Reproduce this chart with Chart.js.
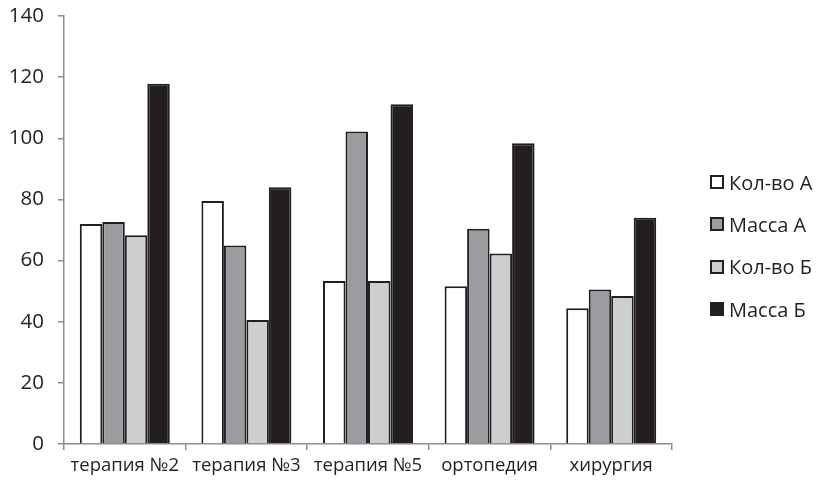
<!DOCTYPE html>
<html>
<head>
<meta charset="utf-8">
<script src="https://cdn.jsdelivr.net/npm/chart.js@4/dist/chart.umd.min.js"></script>
<style>
  html, body { margin: 0; padding: 0; background: #ffffff; }
  #wrap { position: relative; width: 817px; height: 484px; }
  #legend { position: absolute; left: 710px; top: 161px; margin: 0; padding: 0; list-style: none;
            font-family: "Open Sans", sans-serif; font-size: 20px; color: #231f20; }
  #legend li { display: flex; align-items: center; height: 42.3px; white-space: nowrap; }
  #legend .box { width: 10px; height: 10px; border: 2px solid #231f20; margin-right: 5px; flex: none; }
</style>
</head>
<body>
<div id="wrap">
  <canvas id="chart" width="817" height="484"></canvas>
  <ul id="legend"></ul>
</div>
<script>
// Departments along the category axis
const categories = ['терапия №2', 'терапия №3', 'терапия №5', 'ортопедия', 'хирургия'];

// Series values per department
const kolvoA = [72.0, 79.5, 53.3, 51.6, 44.4];
const massaA = [72.6, 64.9, 102.2, 70.4, 50.5];
const kolvoB = [68.3, 40.6, 53.3, 62.3, 48.4];
const massaB = [117.8, 84.0, 111.1, 98.4, 74.0];

const seriesNames = ['Кол-во А', 'Масса А', 'Кол-во Б', 'Масса Б'];
const seriesData = [kolvoA, massaA, kolvoB, massaB];
const seriesFill = ['#ffffff', '#9b9ca0', '#cdcecf', '#231f20'];

// Value axis
const yMin = 0;
const yMax = 140;
const yStep = 20;

const ink = '#231f20';
const axisGrey = '#8d8d8f';

const datasets = seriesNames.map((name, i) => ({
  label: name,
  data: seriesData[i],
  backgroundColor: seriesFill[i],
  borderColor: ink,
  borderWidth: 2,
  borderSkipped: 'bottom'
}));

const chart = new Chart(document.getElementById('chart'), {
  type: 'bar',
  data: { labels: categories, datasets },
  options: {
    responsive: false,
    animation: false,
    events: [],
    categoryPercentage: 0.74,
    barPercentage: 1.0,
    layout: { padding: { left: 0, top: 16, right: 145, bottom: 0 } },
    plugins: { legend: { display: false }, tooltip: { enabled: false } },
    scales: {
      x: {
        offset: true,
        grid: { offset: true, drawOnChartArea: false, drawTicks: true, tickLength: 6,
                color: axisGrey, lineWidth: 1.5 },
        border: { display: true, color: axisGrey, width: 1.5 },
        ticks: { color: ink, padding: 5, maxRotation: 0, autoSkip: false,
                 font: { family: '"Open Sans", sans-serif', size: 18.5 } },
        afterFit: (s) => { s.height = 40; }
      },
      y: {
        min: yMin, max: yMax,
        grid: { drawOnChartArea: false, drawTicks: true, tickLength: 6,
                color: axisGrey, lineWidth: 1.5 },
        border: { display: true, color: axisGrey, width: 1.5 },
        ticks: { stepSize: yStep, color: ink, padding: 14,
                 font: { family: '"Open Sans", sans-serif', size: 20.5 } },
        afterFit: (s) => { s.width = 64; s.paddingTop = 0; s.paddingBottom = 0; }
      }
    }
  }
});

// Legend list built from the chart's datasets
const legend = document.getElementById('legend');
chart.data.datasets.forEach((ds) => {
  const li = document.createElement('li');
  const box = document.createElement('span');
  box.className = 'box';
  box.style.background = ds.backgroundColor;
  li.appendChild(box);
  li.appendChild(document.createTextNode(ds.label));
  legend.appendChild(li);
});
</script>
</body>
</html>
